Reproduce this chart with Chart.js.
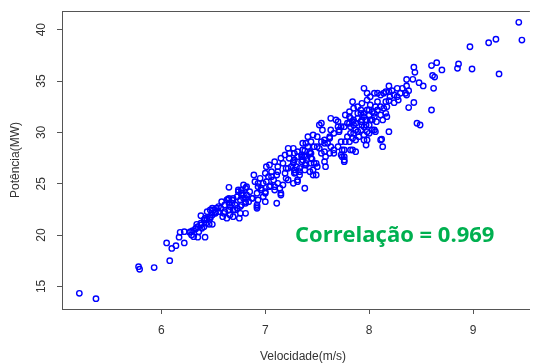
<!DOCTYPE html>
<html><head><meta charset="utf-8">
<script src="https://cdn.jsdelivr.net/npm/chart.js@4/dist/chart.umd.min.js"></script>
<style>html,body{margin:0;padding:0;background:#fff;}canvas{display:block;}</style>
</head><body>
<canvas id="c" width="534" height="363"></canvas>
<script>
const velocidade = [5.21,5.37,5.78,5.79,5.93,6.08,6.05,6.10,6.14,6.22,6.17,6.18,6.22,6.27,6.29,6.31,6.35,6.42,6.30,6.33,
6.35,6.34,6.38,6.39,6.36,6.41,6.43,6.41,6.44,6.49,6.46,6.38,6.42,6.47,6.49,6.44,6.47,6.50,6.52,6.53,
6.55,6.57,6.59,6.63,6.60,6.65,6.66,6.61,6.63,6.65,6.69,6.68,6.71,6.69,6.73,6.76,6.75,6.81,6.77,6.76,
6.73,6.77,6.81,6.81,6.77,6.81,6.79,6.65,6.64,6.68,6.69,6.74,6.77,6.79,6.82,6.85,6.84,6.88,6.92,6.92,
6.90,6.89,6.95,6.93,6.96,7.00,7.00,6.98,7.00,7.01,7.04,7.03,7.06,7.08,7.04,7.09,7.11,7.15,7.14,7.11,
7.12,7.09,7.15,7.19,7.17,7.20,7.19,7.22,7.27,7.31,7.33,7.28,7.25,7.28,7.23,7.22,7.27,7.31,7.35,7.36,
7.39,7.38,7.36,7.41,7.43,7.44,7.43,7.28,7.23,7.27,7.30,7.33,7.35,7.38,7.36,7.39,7.41,7.44,7.46,7.43,
7.44,7.47,7.46,7.50,7.49,7.52,7.55,7.50,7.54,7.52,7.57,7.58,7.62,7.63,7.60,7.62,7.66,7.68,7.70,7.71,
7.73,7.74,7.73,7.76,7.77,7.77,7.81,7.82,7.82,7.84,7.87,7.87,7.89,7.84,7.89,7.92,7.93,7.97,7.98,7.97,
8.00,8.03,8.05,8.06,8.01,8.05,7.38,7.57,7.58,7.76,7.87,8.43,8.44,8.60,8.61,8.63,8.62,8.60,8.46,8.49,
8.43,8.38,8.36,8.42,8.48,8.52,8.36,8.38,8.35,8.32,8.27,8.22,8.19,8.19,8.24,8.27,8.28,8.24,8.19,8.16,
8.11,8.08,8.05,8.01,7.95,7.93,7.98,7.98,8.03,8.08,8.11,8.14,8.16,8.17,8.11,8.13,8.07,8.05,8.00,7.95,
7.92,7.89,7.85,7.81,7.84,7.92,7.97,8.00,8.03,8.06,7.98,7.95,7.92,7.87,7.82,7.95,7.81,8.11,8.19,8.13,
8.12,8.65,8.70,8.86,8.85,8.99,9.25,9.44,9.47,9.22,9.15,8.97,8.36,8.16,
6.93,7.00,7.09,7.15,7.31,7.17,7.20,7.29,7.33,7.39,
7.45,7.49,7.46,7.50,7.57,7.62,7.71,7.76,7.81,7.85,
7.54,7.63,7.70,7.76,7.82,7.74,7.76,7.66,7.38,7.35,
7.27,7.22,7.12,7.06,7.01,6.96,6.92,6.87,6.81,6.76,
6.71,6.66,6.61,6.52,6.47,6.42,6.38,6.33,6.28,6.74,
6.82,6.79,6.69,6.65,6.58,6.55,6.49,6.92,6.93,6.98,
7.05,7.12,
7.37,7.47,7.54,7.66,7.70,7.79,7.85,7.95,7.95,8.00,
7.79,7.73,7.63,7.57,7.44,7.31,7.38,7.28,
8.14,8.20,8.30,8.17,7.89,7.93,8.01,7.85,7.90,7.84,8.08,7.98];
const potencia = [14.33,13.81,16.92,16.67,16.83,17.51,19.23,18.70,18.97,19.23,19.79,20.27,20.33,20.27,20.01,19.84,19.79,19.79,20.43,20.66,
20.82,21.05,21.15,20.66,20.33,20.82,21.15,21.47,21.54,21.05,21.05,21.89,21.64,21.64,21.96,22.28,22.44,22.44,22.22,22.61,
22.28,22.61,21.79,21.64,22.12,22.44,22.77,22.93,23.42,23.58,23.58,23.10,22.93,22.44,22.61,22.12,21.64,22.12,22.93,23.42,
23.74,23.90,23.58,23.10,24.39,24.56,24.88,24.65,23.50,23.42,21.79,24.39,24.07,23.58,23.90,24.23,23.25,23.58,22.93,22.61,
25.20,25.85,25.53,24.71,24.39,24.07,23.25,25.04,26.02,26.66,26.83,25.69,26.17,25.37,24.71,24.71,23.10,24.07,24.56,25.85,
26.66,27.15,27.48,27.80,26.99,26.50,26.02,25.37,25.04,25.20,25.85,26.02,26.66,27.31,27.96,28.45,28.45,28.12,27.80,27.31,
26.83,26.34,28.94,28.61,27.96,26.99,26.17,27.96,27.48,27.15,26.66,26.17,27.15,27.63,28.29,28.94,29.58,29.09,29.75,28.12,
27.48,26.99,26.34,26.66,25.85,30.72,30.23,29.58,29.09,28.45,28.12,27.63,27.96,28.61,28.94,29.58,29.91,31.21,30.56,30.07,
29.09,28.29,27.80,27.31,29.09,31.69,32.02,31.37,30.56,28.29,29.26,30.89,30.07,32.99,32.50,31.86,31.21,30.72,29.26,28.77,
29.91,31.21,31.86,32.50,32.67,30.23,24.56,27.15,26.66,27.63,28.12,36.34,35.85,36.51,35.54,35.39,34.29,32.18,30.89,30.72,
32.91,32.42,35.15,35.17,34.84,34.52,34.52,34.06,33.81,34.29,34.29,34.06,34.52,33.96,33.64,33.48,33.15,32.89,33.09,32.99,
33.64,33.81,33.81,33.48,34.29,32.83,33.15,32.18,32.02,32.18,32.50,32.35,31.86,31.53,31.69,31.21,31.04,31.53,31.69,31.86,
32.18,31.86,32.35,31.53,31.04,31.04,31.21,30.72,30.23,30.07,30.07,29.75,30.23,30.23,29.91,29.26,29.09,29.26,30.07,28.61,
29.33,36.79,36.08,36.66,36.24,36.17,35.69,40.72,38.99,39.07,38.73,38.34,33.64,33.96,
25.04,24.23,24.39,23.90,25.37,24.88,25.53,26.10,26.50,26.99,
27.40,26.99,25.85,28.61,28.94,29.43,30.23,30.56,30.89,31.21,
30.89,31.37,31.04,28.29,28.29,27.63,27.15,28.29,28.20,27.63,
26.99,26.50,26.17,25.69,25.20,24.56,24.07,23.58,23.25,22.77,
22.44,21.96,22.28,22.12,21.79,21.47,20.98,20.60,20.33,24.23,
24.71,23.90,23.42,23.10,23.25,22.77,22.61,22.77,23.42,23.74,
24.80,25.04,
27.75,28.61,27.96,27.96,28.61,29.58,29.91,30.56,31.53,32.18,
30.89,30.56,30.23,29.26,27.96,27.63,26.83,26.34,
33.81,33.48,33.81,32.50,31.37,30.72,31.21,30.72,29.58,29.43,32.99,33.81];
const xTicks = [6, 7, 8, 9];
const yTicks = [15, 20, 25, 30, 35, 40];
const xTitle = 'Velocidade(m/s)';
const yTitle = 'Potência(MW)';
const annotation = 'Correlação = 0.969';

const points = velocidade.map((v, i) => ({x: v, y: potencia[i]}));

const lineColor = '#555555';
const textColor = '#333333';
const axisFont = '12px "Liberation Sans", Arial, sans-serif';

const decor = {
  id: 'decor',
  afterDraw(chart) {
    const ctx = chart.ctx, a = chart.chartArea;
    const xs = chart.scales.x, ys = chart.scales.y;
    ctx.save();
    ctx.strokeStyle = lineColor; ctx.lineWidth = 1;
    ctx.beginPath(); ctx.moveTo(a.left, a.top + 0.5); ctx.lineTo(a.right, a.top + 0.5); ctx.stroke();
    ctx.fillStyle = textColor; ctx.font = axisFont;
    ctx.textAlign = 'center'; ctx.textBaseline = 'middle';
    xTicks.forEach(t => ctx.fillText(String(t), xs.getPixelForValue(t), 331));
    yTicks.forEach(t => {
      ctx.save(); ctx.translate(42, ys.getPixelForValue(t)); ctx.rotate(-Math.PI / 2);
      ctx.fillText(String(t), 0, 0); ctx.restore();
    });
    ctx.fillText(xTitle, 303, 357);
    ctx.save(); ctx.translate(16, (a.top + a.bottom) / 2); ctx.rotate(-Math.PI / 2);
    ctx.fillText(yTitle, 0, 0); ctx.restore();
    ctx.fillStyle = '#00B050';
    ctx.font = 'bold 22px "Open Sans", sans-serif';
    ctx.textAlign = 'left'; ctx.textBaseline = 'middle';
    ctx.fillText(annotation, 295, 236);
    ctx.restore();
  }
};

new Chart(document.getElementById('c'), {
  type: 'scatter',
  data: { datasets: [{
    data: points,
    pointStyle: 'circle', pointRadius: 2.7, pointBorderWidth: 1.4,
    borderColor: '#0000FF', backgroundColor: 'rgba(0,0,0,0)', pointHoverRadius: 2.7
  }]},
  options: {
    responsive: false, devicePixelRatio: 1, animation: false,
    layout: { padding: { top: 11, right: 0, left: 0, bottom: 0 } },
    plugins: { legend: { display: false }, tooltip: { enabled: false } },
    scales: {
      x: {
        type: 'linear', min: 5.043, max: 9.547,
        afterBuildTicks: s => { s.ticks = xTicks.map(v => ({value: v})); },
        afterFit: s => { s.height = 54; },
        ticks: { display: false },
        grid: { drawOnChartArea: false, drawTicks: true, tickLength: 5, color: lineColor, lineWidth: 1 },
        border: { display: true, color: lineColor, width: 1 }
      },
      y: {
        type: 'linear', min: 12.8, max: 41.82,
        afterBuildTicks: s => { s.ticks = yTicks.map(v => ({value: v})); },
        afterFit: s => { s.width = 62; },
        ticks: { display: false },
        grid: { drawOnChartArea: false, drawTicks: true, tickLength: 5, color: lineColor, lineWidth: 1 },
        border: { display: true, color: lineColor, width: 1 }
      }
    }
  },
  plugins: [decor]
});
</script>
</body></html>
